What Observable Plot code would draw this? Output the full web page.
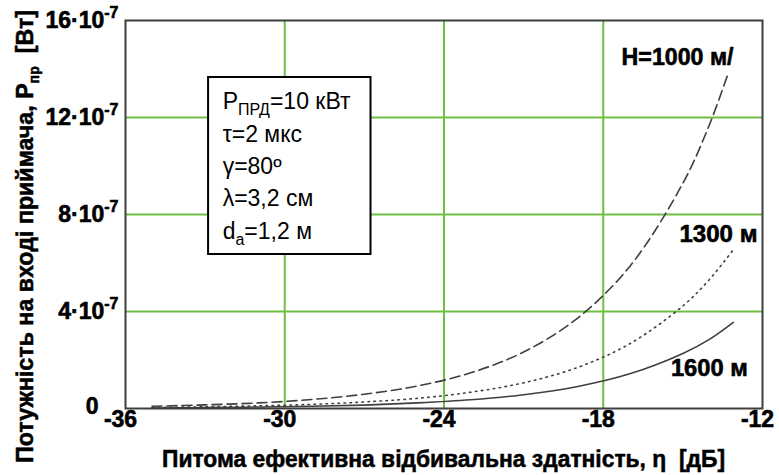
<!DOCTYPE html>
<html><head><meta charset="utf-8">
<script src="https://cdn.jsdelivr.net/npm/d3@7"></script>
<script src="https://cdn.jsdelivr.net/npm/@observablehq/plot@0.6"></script>
<style>body{margin:0;background:#fff;} .thick text{stroke:#000;stroke-width:0.6px;}</style>
</head><body><div id="chart"></div>
<script>
// η, dB
const eta = [-35, -33, -31, -29, -27, -25, -23, -21, -19, -17, -15, -14, -13.3];
const eta2 = [-35, -33, -31, -29, -27, -25, -23, -21, -19, -17, -15, -14, -13.1];
// received power, ×10^-7 W
const p1000 = [0.09, 0.15, 0.23, 0.37, 0.59, 0.93, 1.47, 2.33, 3.70, 5.86, 9.29, 11.7, 13.8];
const p1300 = [0.04, 0.07, 0.11, 0.17, 0.27, 0.42, 0.67, 1.06, 1.68, 2.67, 4.23, 5.32, 6.55];
const p1600 = [0.02, 0.04, 0.06, 0.09, 0.14, 0.23, 0.36, 0.57, 0.90, 1.43, 2.27, 2.85, 3.55];
const xTicks = [-36, -30, -24, -18, -12];
const xTickLabels = ["-36", "-30", "-24", "-18", "-12"];
const yTicks = [4, 8, 12, 16];
const yTickLabels = ["4·10^{-7}", "8·10^{-7}", "12·10^{-7}", "16·10^{-7}"];
const yZero = [0];
const yZeroLabel = ["0"];
const xGrid = [-30, -24, -18];
const yGrid = [4, 8, 12];
const curveLabels = ["H=1000 м/", "1300 м", "1600 м"];
const curveLabelX = [-15.2, -13.66, -14.0];
const curveLabelY = [14.47, 7.18, 1.65];
const curveLabelLen = [112, 78, 77];
const infoLines = ["P_{ПРД}=10 кВт", "τ=2 мкс", "γ=80º", "λ=3,2 см", "d_{a}=1,2 м"];
const infoY = [12.37, 10.97, 9.69, 8.37, 7.01];
const infoX = -32.34;
const box = {x1: -32.87, x2: -26.75, y1: 6.35, y2: 13.65};

const green = "#70bf45", ink = "#3f3f3f";
const bold = "'Liberation Sans', Arial, sans-serif";

const series = [
  {eta, p: p1000, dash: "10,5"},
  {eta: eta2, p: p1300, dash: "1.5,4.5"},
  {eta: eta2, p: p1600, dash: null}
];

const lineMarks = series.map(s => {
  const rows = s.eta.map((e, i) => ({eta: e, p: s.p[i]}));
  return Plot.line(rows, {x: "eta", y: "p", stroke: ink, strokeWidth: 1.6,
    strokeDasharray: s.dash || undefined, curve: "catmull-rom"});
});

const chart = Plot.plot({
  width: 779, height: 475,
  marginLeft: 125, marginRight: 17, marginTop: 20, marginBottom: 67,
  x: {domain: [-36, -12], axis: null},
  y: {domain: [0, 16], axis: null},
  style: {background: "#fff", fontFamily: bold, color: "#000"},
  marks: [
    Plot.ruleX(xGrid, {stroke: green, strokeWidth: 2}),
    Plot.ruleY(yGrid, {stroke: green, strokeWidth: 2}),
    ...lineMarks,
    Plot.frame({stroke: ink, strokeWidth: 2}),
    Plot.rect([box], {x1: "x1", x2: "x2", y1: "y1", y2: "y2", fill: "white", stroke: "#000", strokeWidth: 2}),
    Plot.text(infoLines, {x: () => infoX, y: (d, i) => infoY[i], text: d => d, textAnchor: "start",
      lineAnchor: "bottom", fontSize: 23, fontWeight: "normal", className: "rich"}),
    Plot.text(curveLabels, {x: (d, i) => curveLabelX[i], y: (d, i) => curveLabelY[i], text: d => d,
      fontSize: 24, fontWeight: "bold", className: "thick clab"}),
    Plot.text(xTicks, {x: d => d, frameAnchor: "bottom", dy: 18, dx: -5, text: (d, i) => xTickLabels[i],
      fontSize: 23, fontWeight: "bold", className: "thick"}),
    Plot.text(yTicks, {y: d => d, frameAnchor: "left", dx: -7, text: (d, i) => yTickLabels[i],
      textAnchor: "end", fontSize: 23, fontWeight: "bold", className: "rich thick"}),
    Plot.text(yZero, {y: d => d, frameAnchor: "left", dx: -27, dy: -2, text: (d, i) => yZeroLabel[i],
      textAnchor: "end", fontSize: 23, fontWeight: "bold", className: "thick"})
  ]
});

function rich(el, str, fs) {
  const parts = [];
  const re = /(\^|_)\{([^}]*)\}/g;
  let last = 0, m;
  while ((m = re.exec(str))) {
    if (m.index > last) parts.push({t: str.slice(last, m.index), k: "n"});
    parts.push({t: m[2], k: m[1] === "^" ? "sup" : "sub"});
    last = re.lastIndex;
  }
  if (last < str.length) parts.push({t: str.slice(last), k: "n"});
  if (parts.length === 1 && parts[0].k === "n") return;
  const sel = d3.select(el);
  sel.text(null);
  let shift = 0;
  for (const p of parts) {
    const target = p.k === "sup" ? -0.42 * fs : p.k === "sub" ? 0.3 * fs : 0;
    const ts = sel.append("tspan").text(p.t).attr("dy", target - shift);
    if (p.k !== "n") ts.attr("font-size", Math.round(fs * 0.68));
    shift = target;
  }
}

d3.select(chart).selectAll("g.rich text").each(function () {
  const fs = parseFloat(d3.select(this.parentNode).attr("font-size")) || 21;
  rich(this, this.textContent, fs);
});
d3.select(chart).selectAll("g.clab text").each(function (d, i) {
  d3.select(this).attr("textLength", curveLabelLen[i]).attr("lengthAdjust", "spacingAndGlyphs");
});

const svg = d3.select(chart);
// y-axis title
const yt = svg.append("text")
  .attr("transform", "translate(33,236.5) rotate(-90)")
  .attr("text-anchor", "middle")
  .attr("font-family", bold).attr("font-weight", "bold").attr("font-size", 23)
  .attr("stroke", "#000").attr("stroke-width", 0.5)
  .attr("textLength", 453).attr("lengthAdjust", "spacingAndGlyphs");
yt.append("tspan").text("Потужність на вході приймача, P");
yt.append("tspan").text("пр").attr("font-size", 14).attr("dy", 6);
yt.append("tspan").text("  [Вт]").attr("dy", -6);
// x-axis title
svg.append("text")
  .attr("x", 443.5).attr("y", 467)
  .attr("text-anchor", "middle")
  .attr("font-family", bold).attr("font-weight", "bold").attr("font-size", 23)
  .attr("stroke", "#000").attr("stroke-width", 0.5)
  .attr("textLength", 563).attr("lengthAdjust", "spacingAndGlyphs")
  .text("Питома ефективна відбивальна здатність, η  [дБ]");

document.getElementById("chart").appendChild(chart);
</script>
</body></html>
